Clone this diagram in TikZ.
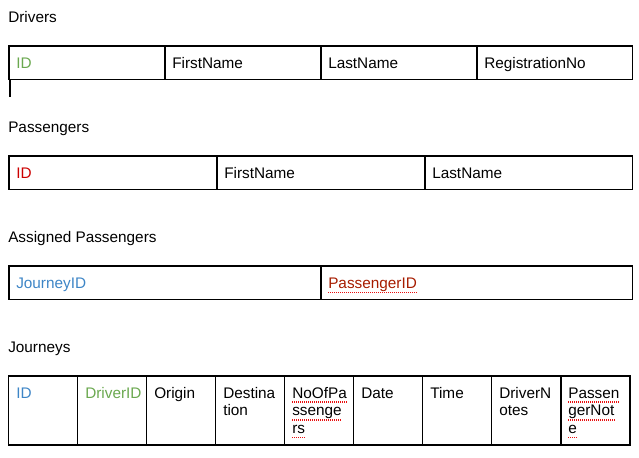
\documentclass[tikz,border=0pt]{standalone}
\usepackage{fontspec}
\setmainfont{Liberation Sans}
\definecolor{FKGREEN}{HTML}{6AA84F}
\definecolor{PKRED}{HTML}{CC0000}
\definecolor{FKBLUE}{HTML}{3D85C6}
\definecolor{FKBROWN}{HTML}{A61C00}
\definecolor{SPELL}{HTML}{E81010}

\begin{document}
\begin{tikzpicture}[x=0.75pt, y=-0.75pt, every node/.style={anchor=base west, inner sep=0pt, text=black, font=\fontsize{11.5}{13.4}\selectfont}, cell/.style={draw=black, line width=0.8pt}, wrap/.style={text width=46pt, align=left}, spell/.style={draw=SPELL, line width=1pt, dash pattern=on 0.8pt off 0.7pt}]
\useasboundingbox (0,0) rectangle (639,457);

% Drivers
\node [] (drvTitle) at (8,22) {Drivers};
\draw [cell] (9,46) rectangle (632.5,79.5);
\draw [cell] (165,46) -- (165,79.5);
\draw [cell] (321,46) -- (321,79.5);
\draw [cell] (477,46) -- (477,79.5);
\draw [line width=1.5pt] (9.6,79.5) -- (9.6,97);
\node [text=FKGREEN] (drvID)    at (16,68.5)  {ID};
\node []             (drvFirst) at (172,68.5) {FirstName};
\node []             (drvLast)  at (328,68.5) {LastName};
\node []             (drvReg)   at (484,68.5) {RegistrationNo};

% Passengers
\node [] (pasTitle) at (8,132) {Passengers};
\draw [cell] (9,156) rectangle (632.5,189.5);
\draw [cell] (217,156) -- (217,189.5);
\draw [cell] (425,156) -- (425,189.5);
\node [text=PKRED] (pasID)    at (16,178.5)  {ID};
\node []           (pasFirst) at (224,178.5) {FirstName};
\node []           (pasLast)  at (432,178.5) {LastName};

% Assigned Passengers
\node [] (asgTitle) at (8,242) {Assigned Passengers};
\draw [cell] (9,266) rectangle (632.5,299.5);
\draw [cell] (321,266) -- (321,299.5);
\node [text=FKBLUE]  (asgJourney)   at (16,288.5)  {JourneyID};
\node [text=FKBROWN] (asgPassenger) at (328,288.5) {PassengerID};
\draw [spell] ([yshift=-3pt]asgPassenger.base west) -- ([yshift=-3pt]asgPassenger.base east);

% Journeys
\node [] (jrnTitle) at (8,352) {Journeys};
\draw [cell] (8.5,376) rectangle (630,445);
\draw [cell] (77.5,376)  -- (77.5,445);
\draw [cell] (146.6,376) -- (146.6,445);
\draw [cell] (215.7,376) -- (215.7,445);
\draw [cell] (284.8,376) -- (284.8,445);
\draw [cell] (353.8,376) -- (353.8,445);
\draw [cell] (422.9,376) -- (422.9,445);
\draw [cell] (491.9,376) -- (491.9,445);
\draw [cell] (561,376)   -- (561,445);
\node [wrap, text=FKBLUE]  (jrnID)     at (16,398)  {ID};
\node [wrap, text=FKGREEN] (jrnDriver) at (85,398)  {DriverID};
\node [wrap]               (jrnOrigin) at (154,398) {Origin};
\node [wrap]               (jrnDest)   at (223,398) {Destina\\tion};
\node [] (jrnSeatsA) at (292,398)   {NoOfPa};
\node [] (jrnSeatsB) at (292,415.9) {ssenge};
\node [] (jrnSeatsC) at (292,433.8) {rs};
\node [wrap]               (jrnDate)   at (361,398) {Date};
\node [wrap]               (jrnTime)   at (430,398) {Time};
\node [wrap]               (jrnDNotes) at (499,398) {DriverN\\otes};
\node [] (jrnPNotesA) at (568,398)   {Passen};
\node [] (jrnPNotesB) at (568,415.9) {gerNot};
\node [] (jrnPNotesC) at (568,433.8) {e};
\foreach \w in {jrnSeatsA,jrnSeatsB,jrnSeatsC,jrnPNotesA,jrnPNotesB,jrnPNotesC}
  \draw [spell] ([yshift=-3pt]\w.base west) -- ([yshift=-3pt]\w.base east);
\end{tikzpicture}
\end{document}
